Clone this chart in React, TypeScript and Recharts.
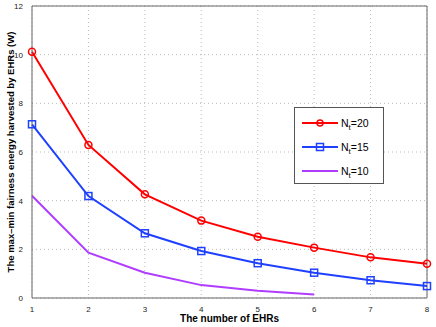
import { LineChart, Line, XAxis, YAxis, CartesianGrid, ReferenceLine, Label } from 'recharts';

const ehrs = [1, 2, 3, 4, 5, 6, 7, 8];
const nt20 = [10.12, 6.29, 4.26, 3.18, 2.52, 2.07, 1.67, 1.41];
const nt15 = [7.14, 4.19, 2.66, 1.93, 1.43, 1.04, 0.73, 0.49];
const nt10 = [4.2, 1.86, 1.04, 0.53, 0.3, 0.14];
const xTicks = [1, 2, 3, 4, 5, 6, 7, 8];
const yTicks = [0, 2, 4, 6, 8, 10, 12];

const data = ehrs.map((x, i) => ({ x, nt20: nt20[i], nt15: nt15[i], nt10: nt10[i] }));

const font = '"Liberation Sans", Arial, sans-serif';

const series = [
  { key: 'nt20', label: '20', color: '#ff0000', marker: 'circle' },
  { key: 'nt15', label: '15', color: '#2040ff', marker: 'square' },
  { key: 'nt10', label: '10', color: '#b03cff', marker: 'dot' },
];

function SquareDot(props: any) {
  const { cx, cy, stroke } = props;
  if (cx == null || cy == null) return null;
  return <rect x={cx - 3.5} y={cy - 3.5} width={7} height={7} fill="none" stroke={stroke} strokeWidth={1.5} />;
}

function LegendBox() {
  return (
    <div
      style={{
        position: 'absolute',
        left: 294,
        top: 107,
        width: 88,
        height: 75,
        border: '1px solid #555',
        background: '#fff',
        fontFamily: font,
        fontSize: 10.5,
      }}
    >
      {series.map((s, i) => (
        <div key={s.key} style={{ position: 'absolute', left: 0, top: 7 + i * 24, height: 16, display: 'flex', alignItems: 'center' }}>
          <svg width={46} height={16} style={{ display: 'block' }}>
            <line x1={7} y1={8} x2={43} y2={8} stroke={s.color} strokeWidth={2} />
            {s.marker === 'circle' && <circle cx={25} cy={8} r={3} fill="none" stroke={s.color} strokeWidth={1.5} />}
            {s.marker === 'square' && <rect x={21.5} y={4.5} width={7} height={7} fill="none" stroke={s.color} strokeWidth={1.5} />}
          </svg>
          <span style={{ color: '#000', lineHeight: '16px' }}>
            N<sub style={{ fontSize: 8, lineHeight: 0 }}>t</sub>={s.label}
          </span>
        </div>
      ))}
    </div>
  );
}

export default function App() {
  return (
    <div style={{ position: 'absolute', left: 0, top: 0, width: 436, height: 327, background: '#fff' }}>
      <LineChart width={436} height={327} data={data} margin={{ top: 6, right: 9, left: 12, bottom: 1 }}>
        <CartesianGrid stroke="#bbb" strokeDasharray="1 3" />
        <XAxis
          dataKey="x"
          type="number"
          domain={[1, 8]}
          ticks={xTicks}
          tickLine={false}
          axisLine={{ stroke: '#666' }}
          tick={{ fontSize: 8, fill: '#222', fontFamily: font }}
          tickMargin={2}
          height={28}
        >
          <Label value="The number of EHRs" position="insideBottom" offset={4} style={{ fontSize: 10, fontWeight: 'bold', fontFamily: font, fill: '#000' }} />
        </XAxis>
        <YAxis
          type="number"
          domain={[0, 12]}
          ticks={yTicks}
          tickLine={false}
          axisLine={{ stroke: '#666' }}
          tick={{ fontSize: 8, fill: '#222', fontFamily: font }}
          tickMargin={3}
          width={20}
        >
          <Label
            value="The max–min fairness energy harvested by EHRs (W)"
            angle={-90}
            position="insideLeft"
            offset={-1}
            style={{ fontSize: 9.5, fontWeight: 'bold', fontFamily: font, fill: '#000', textAnchor: 'middle' }}
          />
        </YAxis>
        <ReferenceLine y={12} stroke="#666" />
        <ReferenceLine x={8} stroke="#666" />
        <Line
          dataKey="nt20"
          stroke="#ff0000"
          strokeWidth={2}
          dot={{ r: 3.5, fill: 'none', stroke: '#ff0000', strokeWidth: 1.5 }}
          isAnimationActive={false}
        />
        <Line
          dataKey="nt15"
          stroke="#2040ff"
          strokeWidth={2}
          dot={<SquareDot />}
          isAnimationActive={false}
        />
        <Line
          dataKey="nt10"
          stroke="#b03cff"
          strokeWidth={2}
          dot={false}
          isAnimationActive={false}
        />
      </LineChart>
      <LegendBox />
    </div>
  );
}
